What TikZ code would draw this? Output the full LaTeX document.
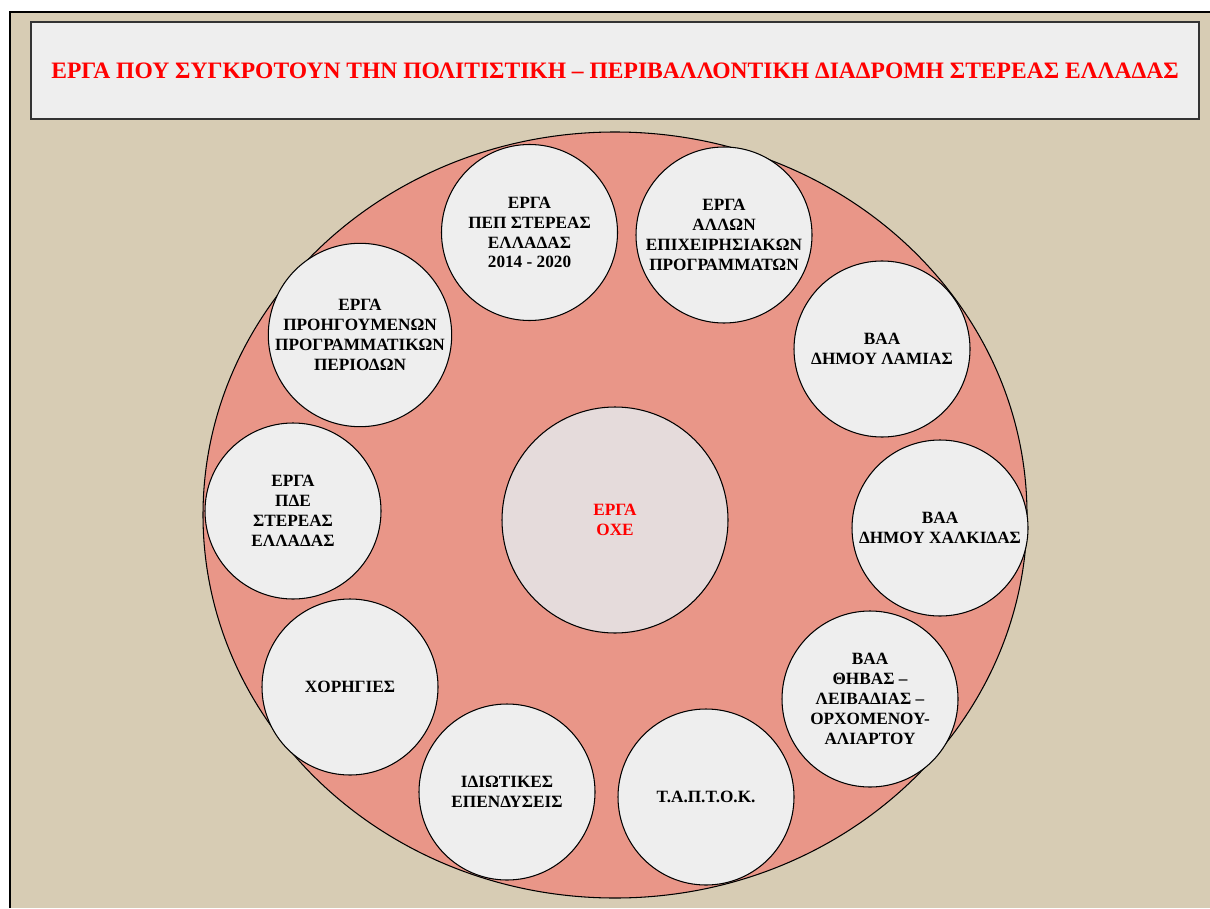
\documentclass[tikz,border=0pt]{standalone}
\usepackage{fontspec}
\setmainfont{Liberation Serif}
\usetikzlibrary{shapes.geometric, positioning}
\definecolor{linen}{RGB}{215,204,180}
\definecolor{salmon}{RGB}{233,150,136}
\definecolor{paper}{RGB}{238,238,238}
\definecolor{marble}{RGB}{229,219,219}
\tikzstyle{item} = [circle, minimum size=3.52cm, inner sep=0pt, align=center, draw=black, line width=0.6pt, fill=paper, font=\fontsize{9.8}{11.3}\selectfont\bfseries]
\tikzstyle{core} = [circle, minimum size=4.52cm, inner sep=0pt, align=center, draw=black, line width=0.6pt, fill=marble, text=red, font=\fontsize{9.8}{11.3}\selectfont\bfseries]
\tikzstyle{ring} = [ellipse, minimum width=16.48cm, minimum height=15.32cm, inner sep=0pt, draw=black, line width=0.6pt, fill=salmon]
\tikzstyle{banner} = [rectangle, minimum width=23.36cm, minimum height=1.94cm, inner sep=0pt, draw=black!80, line width=0.8pt, fill=paper, text=red, font=\fontsize{13.4}{16}\selectfont\bfseries]

\begin{document}
\begin{tikzpicture}[node distance=6cm]
\useasboundingbox (0,0) rectangle (24.2,-18.16);
\fill [linen] (0.2,-0.24) rectangle (24.2,-18.16);
\draw [line width=1.4pt] (0.2,-18.16) |- (24.2,-0.24);

\coordinate (mid) at (12.3,-10.4);
\node (ring) [ring, yshift=0.1cm] at (mid) {};
\node (oxe) [core] at (mid) {ΕΡΓΑ\\ΟΧΕ};

\node (title) [banner, above of=oxe, yshift=2.99cm] {ΕΡΓΑ ΠΟΥ ΣΥΓΚΡΟΤΟΥΝ ΤΗΝ ΠΟΛΙΤΙΣΤΙΚΗ – ΠΕΡΙΒΑΛΛΟΝΤΙΚΗ ΔΙΑΔΡΟΜΗ ΣΤΕΡΕΑΣ ΕΛΛΑΔΑΣ};

\node (pep) [item, above of=oxe, xshift=-1.71cm, yshift=-0.25cm] {ΕΡΓΑ\\ΠΕΠ ΣΤΕΡΕΑΣ\\ΕΛΛΑΔΑΣ\\2014 - 2020};
\node (allon) [item, above of=oxe, xshift=2.18cm, yshift=-0.3cm] {ΕΡΓΑ\\ΑΛΛΩΝ\\ΕΠΙΧΕΙΡΗΣΙΑΚΩΝ\\ΠΡΟΓΡΑΜΜΑΤΩΝ};
\node (lamia) [item, right of=oxe, xshift=-0.66cm, yshift=3.42cm] {ΒΑΑ\\ΔΗΜΟΥ ΛΑΜΙΑΣ};
\node (chalkida) [item, right of=oxe, xshift=0.5cm, yshift=-0.16cm] {ΒΑΑ\\ΔΗΜΟΥ ΧΑΛΚΙΔΑΣ};
\node (thiva) [item, right of=oxe, xshift=-0.9cm, yshift=-3.58cm] {ΒΑΑ\\ΘΗΒΑΣ –\\ΛΕΙΒΑΔΙΑΣ –\\ΟΡΧΟΜΕΝΟΥ-\\ΑΛΙΑΡΤΟΥ};
\node (taptok) [item, below of=oxe, xshift=1.82cm, yshift=0.46cm] {Τ.Α.Π.Τ.Ο.Κ.};
\node (idiotikes) [item, below of=oxe, xshift=-2.16cm, yshift=0.56cm] {ΙΔΙΩΤΙΚΕΣ\\ΕΠΕΝΔΥΣΕΙΣ};
\node (xorigies) [item, left of=oxe, xshift=0.7cm, yshift=-3.34cm] {ΧΟΡΗΓΙΕΣ};
\node (pde) [item, left of=oxe, xshift=-0.44cm, yshift=0.18cm] {ΕΡΓΑ\\ΠΔΕ\\ΣΤΕΡΕΑΣ\\ΕΛΛΑΔΑΣ};
\node (progr) [item, left of=oxe, xshift=0.9cm, yshift=3.7cm] {ΕΡΓΑ\\ΠΡΟΗΓΟΥΜΕΝΩΝ\\ΠΡΟΓΡΑΜΜΑΤΙΚΩΝ\\ΠΕΡΙΟΔΩΝ};
\end{tikzpicture}
\end{document}
